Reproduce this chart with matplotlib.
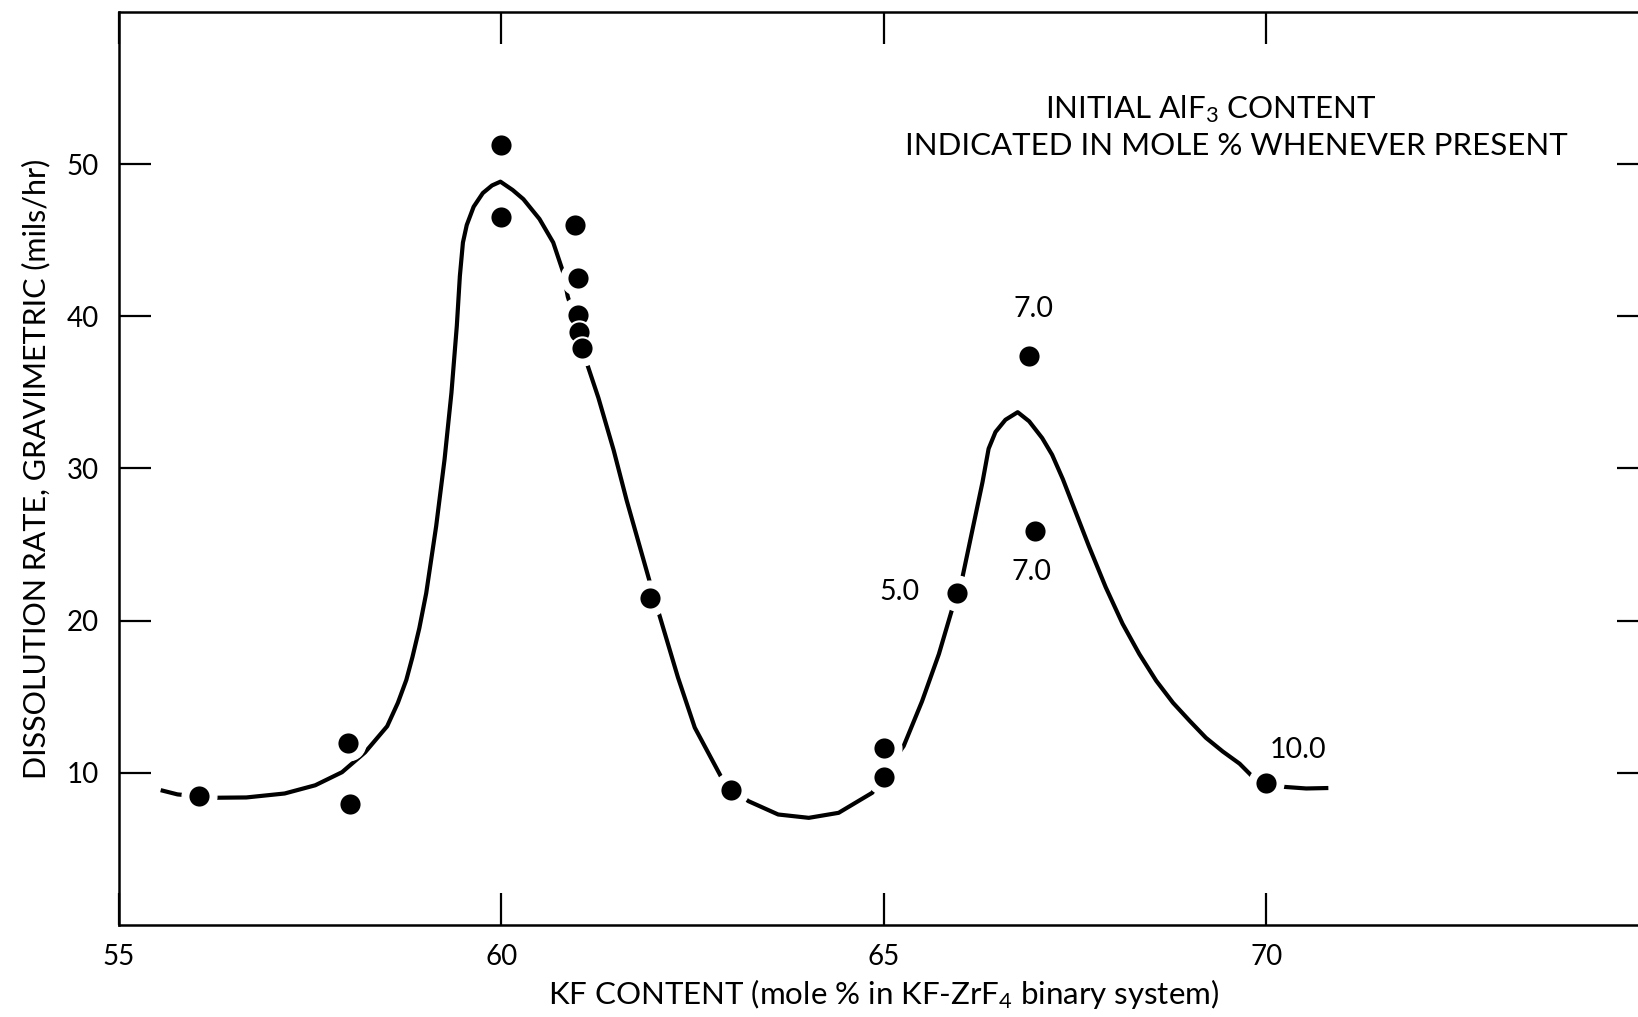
import matplotlib
matplotlib.use("Agg")
import matplotlib.pyplot as plt

# ---- data -------------------------------------------------------------
# measured points: KF content (mole %) vs dissolution rate (mils/hr)
kf_points = [56.05, 58.0, 58.03, 60.0, 60.0, 60.97, 61.0, 61.0, 61.02, 61.05,
             61.95, 63.0, 65.0, 65.0, 65.96, 66.9, 66.98, 70.0]
rate_points = [8.5, 11.95, 7.95, 51.25, 46.5, 46.0, 42.5, 40.1, 39.0, 37.9,
               21.5, 8.9, 11.6, 9.7, 21.8, 37.4, 25.9, 9.3]

# hand-drawn trend curve
curve_kf = [55.55, 55.77, 56.05, 56.25, 56.67, 57.17, 57.57, 57.92, 58.22,
            58.51, 58.65, 58.76, 58.84, 58.93, 59.02, 59.15, 59.26, 59.35,
            59.42, 59.46, 59.50, 59.55, 59.64, 59.76, 59.88, 59.99, 60.15,
            60.29, 60.5, 60.68, 60.81, 60.87, 61.0, 61.11, 61.27, 61.47,
            61.64, 61.95, 62.05, 62.31, 62.53, 62.88, 63.0, 63.23, 63.62,
            64.02, 64.41, 64.85, 65.0, 65.26, 65.5, 65.72, 65.89, 66.03,
            66.16, 66.29, 66.37, 66.46, 66.59, 66.75, 66.9, 67.07, 67.2,
            67.34, 67.51, 67.68, 67.9, 68.12, 68.34, 68.56, 68.78, 69.0,
            69.21, 69.43, 69.65, 69.82, 70.0, 70.22, 70.52, 70.81]
curve_rate = [8.86, 8.58, 8.45, 8.36, 8.38, 8.64, 9.18, 10.04, 11.34,
              13.06, 14.6, 16.1, 17.6, 19.5, 21.8, 26.2, 30.6, 34.98,
              39.36, 42.65, 44.85, 46.0, 47.2, 48.1, 48.6, 48.85, 48.3,
              47.7, 46.4, 44.85, 42.9, 41.3, 39.2, 37.06, 34.65, 31.2,
              27.9, 22.4, 20.66, 16.27, 12.97, 9.68, 9.0, 8.14, 7.26,
              7.04, 7.37, 8.69, 9.9, 11.76, 14.7, 17.8, 20.7, 22.9,
              26.0, 29.1, 31.3, 32.4, 33.2, 33.7, 33.1, 32.0, 30.9,
              29.3, 27.1, 24.9, 22.2, 19.8, 17.8, 16.05, 14.6, 13.4,
              12.3, 11.4, 10.6, 9.74, 9.4, 9.08, 8.97, 9.0]

# AlF3 content labels
alf3_labels = ["7.0", "7.0", "5.0", "10.0"]
alf3_x = [66.96, 66.93, 65.2, 70.42]
alf3_y = [40.5, 23.2, 21.9, 11.5]

x_ticks = [55, 60, 65, 70]
y_ticks = [10, 20, 30, 40, 50]

# ---- style ------------------------------------------------------------
FONT = "Lato"
plt.rcParams["font.family"] = [FONT, "DejaVu Sans"]
plt.rcParams["mathtext.fontset"] = "custom"
plt.rcParams["mathtext.rm"] = FONT
plt.rcParams["mathtext.it"] = FONT

fig = plt.figure(figsize=(16.38, 10.17), dpi=100)
ax = fig.add_axes([0.0724, 0.0905, 0.9343, 0.8977])

ax.plot(curve_kf, curve_rate, color="black", lw=3.0, zorder=2,
        solid_capstyle="butt", solid_joinstyle="round")
# white halos to break the curve around the dots (drafting style)
ax.plot(kf_points, rate_points, ls="none", marker="o", ms=25,
        mfc="white", mec="white", zorder=3)
ax.plot(kf_points, rate_points, ls="none", marker="o", ms=16,
        mfc="black", mec="white", mew=1.5, zorder=4)

for t, x, y in zip(alf3_labels, alf3_x, alf3_y):
    ax.text(x, y, t, ha="center", va="center", fontsize=20.5, zorder=5)

ax.text(69.28, 53.6, "INITIAL AlF$_3$ CONTENT", ha="center", va="center",
        fontsize=22.5)
ax.text(69.61, 51.2, "INDICATED IN MOLE % WHENEVER PRESENT",
        ha="center", va="center", fontsize=22.5)

ax.set_xlim(55, 75)
ax.set_ylim(0, 60)
ax.set_xticks(x_ticks)
ax.set_xticklabels([str(v) for v in x_ticks])
ax.set_yticks(y_ticks)
ax.set_yticklabels([str(v) for v in y_ticks])
ax.tick_params(direction="in", length=23, width=1.6, labelsize=20,
               top=True, right=True, pad=14)

for s in ax.spines.values():
    s.set_linewidth(1.8)

ax.set_xlabel("KF CONTENT (mole % in KF-ZrF$_4$ binary system)",
              fontsize=22.5, labelpad=5)
ax.set_ylabel("DISSOLUTION RATE, GRAVIMETRIC (mils/hr)", fontsize=22,
              labelpad=12)

fig.savefig("out.png", dpi=100)
